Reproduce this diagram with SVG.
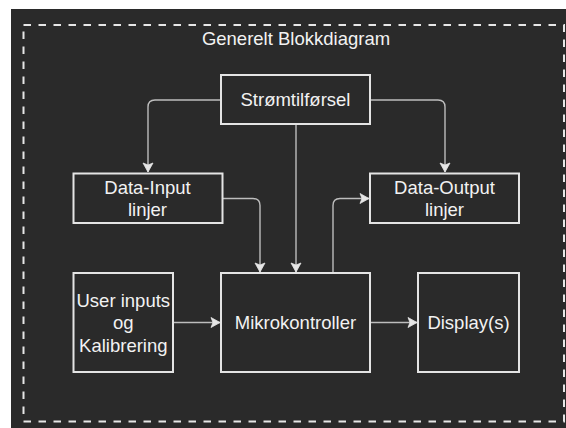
<svg xmlns="http://www.w3.org/2000/svg" width="566" height="428" viewBox="0 0 566 428">
  <defs>
    <marker id="arrow" markerUnits="userSpaceOnUse" markerWidth="12" markerHeight="12" viewBox="-10 -6 12 12" refX="0" refY="0" orient="auto">
      <path d="M0,0 L-9,-5 L-7,0 L-9,5 Z" fill="#e6e6e6" stroke="#e6e6e6" stroke-width="0.8" stroke-linejoin="miter"/>
    </marker>
    <style>
      .box { fill: #2a2a2a; stroke: #e4e4e4; stroke-width: 2; }
      .lbl { font-family: "Liberation Sans", Arial, sans-serif; font-size: 18.5px; fill: #f2f2f2; text-anchor: middle; }
      .edge { fill: none; stroke: #bdbdbd; stroke-width: 1.4; marker-end: url(#arrow); }
      .plain { fill: none; stroke: #bdbdbd; stroke-width: 1.4; }
    </style>
  </defs>

  <!-- canvas -->
  <rect x="0" y="0" width="566" height="428" fill="#ffffff"/>
  <rect x="11" y="9" width="555" height="419" fill="#2a2a2a"/>

  <!-- system boundary -->
  <g id="boundary">
    <rect x="23.5" y="25" width="540.5" height="396.5" fill="none" stroke="#e6e6e6" stroke-width="2" stroke-dasharray="7.5 7.5"/>
    <text class="lbl" x="296" y="44.5">Generelt Blokkdiagram</text>
  </g>

  <!-- connectors -->
  <g id="connectors">
    <path class="edge" d="M221,100 H155 Q148,100 148,107 V172"/>
    <path class="edge" d="M370,100 H438 Q445,100 445,107 V172"/>
    <path class="edge" d="M296,124 V272"/>
    <path class="edge" d="M222,198.5 H253 Q260,198.5 260,205.5 V272"/>
    <path class="edge" d="M333,273 V205.5 Q333,198.5 340,198.5 H369"/>
    <path class="edge" d="M173,322.5 H220"/>
    <path class="edge" d="M370,322.5 H417"/>
  </g>

  <!-- nodes -->
  <g id="stromtilforsel">
    <rect class="box" x="221" y="75" width="149" height="49"/>
    <text class="lbl" x="295.5" y="106">Strømtilførsel</text>
  </g>

  <g id="data-input">
    <rect class="box" x="73.5" y="173.5" width="149" height="49.5"/>
    <text class="lbl" x="147.5" y="194.3">Data-Input</text>
    <text class="lbl" x="147.5" y="215.5">linjer</text>
  </g>

  <g id="data-output">
    <rect class="box" x="370" y="173.5" width="149" height="49.5"/>
    <text class="lbl" x="444.5" y="194.3">Data-Output</text>
    <text class="lbl" x="444.5" y="215.5">linjer</text>
  </g>

  <g id="user-inputs">
    <rect class="box" x="73.5" y="273" width="99.5" height="99"/>
    <text class="lbl" x="123.3" y="306.7">User inputs</text>
    <text class="lbl" x="123.3" y="329">og</text>
    <text class="lbl" x="123.3" y="351.5">Kalibrering</text>
  </g>

  <g id="mikrokontroller">
    <rect class="box" x="221" y="273" width="149" height="99"/>
    <text class="lbl" x="295.5" y="328.5">Mikrokontroller</text>
  </g>

  <g id="display">
    <rect class="box" x="418" y="273" width="101" height="99"/>
    <text class="lbl" x="468.5" y="328.5">Display(s)</text>
  </g>
</svg>
